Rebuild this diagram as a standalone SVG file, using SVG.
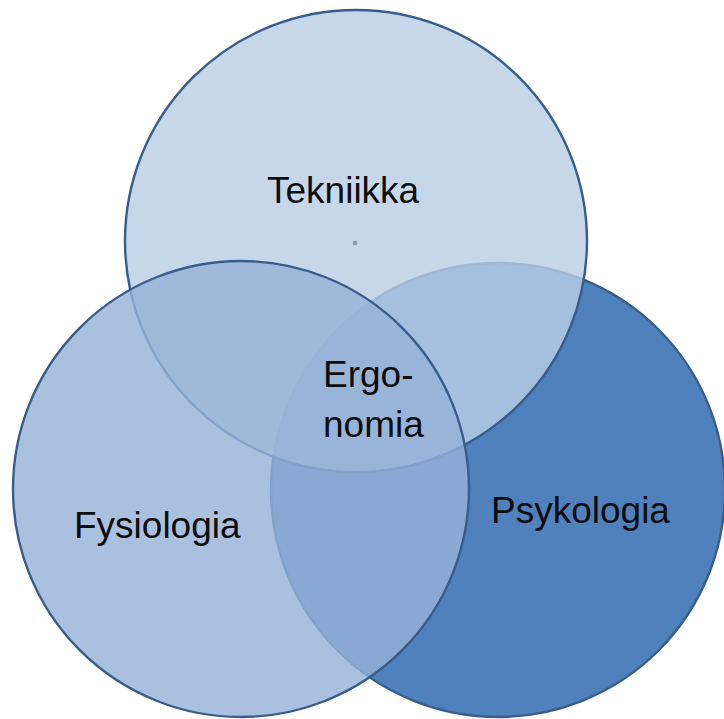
<svg xmlns="http://www.w3.org/2000/svg" width="724" height="719" viewBox="0 0 724 719">
<style>
.c{stroke:#385d8a;stroke-width:2.4}
.t{font-family:"Liberation Sans","Open Sans",Arial,sans-serif;font-size:37px;fill:#0d0d0d}
</style>
<rect width="724" height="719" fill="#ffffff"/>
<g id="psykologia">
<circle class="c" cx="498" cy="490" r="227" fill="#4f81bd"/>
</g>
<g id="tekniikka">
<circle class="c" cx="356" cy="241" r="231" fill="rgb(185,206,229)" fill-opacity="0.81"/>
<circle cx="355" cy="243" r="2.3" fill="#8a9cb5"/>
</g>
<g id="fysiologia">
<circle class="c" cx="241" cy="489" r="228" fill="rgb(150,178,215)" fill-opacity="0.81"/>
</g>
<g id="labels">
<text class="t" x="267" y="203">Tekniikka</text>
<text class="t" x="323" y="387">Ergo-</text>
<text class="t" x="323" y="437">nomia</text>
<text class="t" x="74" y="538">Fysiologia</text>
<text class="t" x="491" y="523">Psykologia</text>
</g>
<g id="connectors"></g>
</svg>
